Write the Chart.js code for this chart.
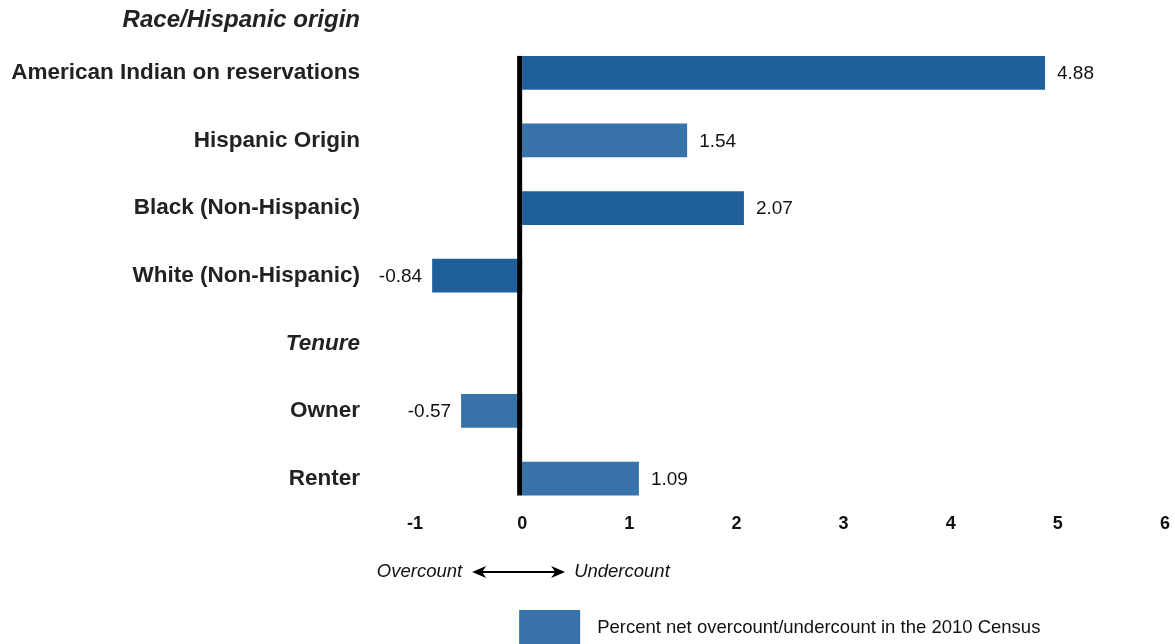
<!DOCTYPE html>
<html>
<head>
<meta charset="utf-8">
<script src="https://cdn.jsdelivr.net/npm/chart.js@4/dist/chart.umd.min.js"></script>
<style>
  html, body { margin: 0; padding: 0; background: #fff; }
  #wrap { width: 1175px; height: 644px; position: relative; }
</style>
</head>
<body>
<div id="wrap"><canvas id="myChart" width="1175" height="644"></canvas></div>
<script>
// rows, top to bottom ('Tenure' is a heading row with no bar)
const categories = ['American Indian on reservations', 'Hispanic Origin', 'Black (Non-Hispanic)', 'White (Non-Hispanic)', 'Tenure', 'Owner', 'Renter']
const headingRows = ['Tenure']
const netPercent = [4.88, 1.54, 2.07, -0.84, null, -0.57, 1.09]
const shade = ['dark', 'light', 'dark', 'dark', 'light', 'light', 'light']
const xTicks = [-1, 0, 1, 2, 3, 4, 5, 6]
const topHeading = 'Race/Hispanic origin'
const seriesLabel = 'Percent net overcount/undercount in the 2010 Census'

const DARK = '#1f5f9b', LIGHT = '#3772a8'
const FONT = '"Liberation Sans", Arial, Helvetica, sans-serif'

const extras = {
    id: 'extras',
    afterDatasetsDraw(chart) {
        const c = chart.ctx
        const x = chart.scales.x
        const meta = chart.getDatasetMeta(0)
        c.save()
        // value labels
        c.font = '19px ' + FONT
        c.fillStyle = '#111'
        c.textBaseline = 'middle'
        meta.data.forEach((bar, i) => {
            const v = netPercent[i]
            if (v == null) return
            if (v >= 0) { c.textAlign = 'left'; c.fillText(v.toFixed(2), bar.x + 12, bar.y + 1) }
            else { c.textAlign = 'right'; c.fillText(v.toFixed(2), bar.x - 10, bar.y + 1) }
        })
        // zero line
        const bars = meta.data.filter((b, i) => netPercent[i] != null)
        const x0 = x.getPixelForValue(0)
        const top = bars[0].y - bars[0].height / 2
        const last = bars[bars.length - 1]
        const bot = last.y + last.height / 2
        c.fillStyle = '#000'
        c.fillRect(x0 - 5, top, 5, bot - top)
        // heading above first row
        c.font = 'italic bold 24px ' + FONT
        c.fillStyle = '#222'
        c.textAlign = 'right'
        c.fillText(topHeading, 360, 20)
        // overcount / undercount arrow
        const ay = 572
        c.font = 'italic 18.5px ' + FONT
        c.fillStyle = '#111'
        c.textAlign = 'right'
        c.fillText('Overcount', x0 - 60, ay)
        c.textAlign = 'left'
        c.fillText('Undercount', x0 + 52, ay)
        c.strokeStyle = '#000'
        c.lineWidth = 2
        c.beginPath(); c.moveTo(x0 - 45, ay); c.lineTo(x0 + 38, ay); c.stroke()
        c.beginPath()
        c.moveTo(x0 - 50, ay); c.lineTo(x0 - 36, ay - 6); c.lineTo(x0 - 40, ay); c.lineTo(x0 - 36, ay + 6); c.closePath()
        c.moveTo(x0 + 43, ay); c.lineTo(x0 + 29, ay - 6); c.lineTo(x0 + 33, ay); c.lineTo(x0 + 29, ay + 6); c.closePath()
        c.fillStyle = '#000'
        c.fill()
        // legend
        c.fillStyle = LIGHT
        c.fillRect(x0 - 3, 610, 61, 34)
        c.fillStyle = '#111'
        c.font = '18.5px ' + FONT
        c.textAlign = 'left'
        c.fillText(seriesLabel, x0 + 75, 628)
        c.restore()
    }
}

const ctx = document.getElementById('myChart').getContext('2d')
window.bar = new Chart(ctx, {
    type: 'bar',
    data: {
        labels: categories,
        datasets: [{
            label: seriesLabel,
            data: netPercent,
            backgroundColor: shade.map(s => s == 'dark' ? DARK : LIGHT),
            borderWidth: 0,
            barPercentage: 0.5,
            categoryPercentage: 1
        }]
    },
    options: {
        indexAxis: 'y',
        responsive: false,
        animation: false,
        layout: { padding: { top: 39, right: 10, bottom: 108, left: 0 } },
        plugins: { legend: { display: false }, tooltip: { enabled: false } },
        scales: {
            x: {
                min: xTicks[0],
                max: xTicks[xTicks.length - 1],
                afterBuildTicks: s => { s.ticks = xTicks.map(v => ({ value: v })) },
                grid: { display: false, drawTicks: false },
                border: { display: false },
                ticks: { color: '#111', padding: 1, font: { family: FONT, size: 18, weight: 'bold' } }
            },
            y: {
                // the big label padding would otherwise also pad top/bottom
                afterFit: s => { s.width = 415; s.paddingTop = 0; s.paddingBottom = 0 },
                grid: { display: false, drawTicks: false },
                border: { display: false },
                ticks: {
                    color: '#222',
                    padding: 55,
                    font: c => ({
                        family: FONT, size: 22.5, weight: 'bold',
                        style: headingRows.includes(categories[c.index]) ? 'italic' : 'normal'
                    })
                }
            }
        }
    },
    plugins: [extras]
})
</script>
</body>
</html>
